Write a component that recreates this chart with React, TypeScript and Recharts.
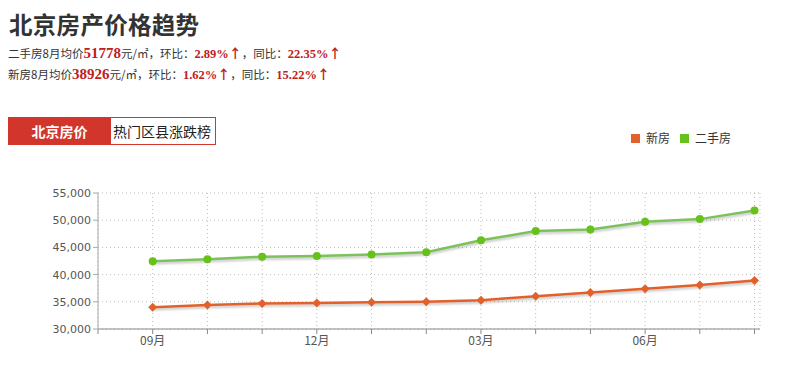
import React from 'react';
import { LineChart, Line, XAxis, YAxis, CartesianGrid } from 'recharts';

const months = ['09月', '10月', '11月', '12月', '01月', '02月', '03月', '04月', '05月', '06月', '07月', '08月'];
const newHouse = [34000, 34400, 34700, 34800, 34900, 35000, 35300, 36000, 36700, 37400, 38100, 38926];
const secondHand = [42450, 42800, 43300, 43400, 43700, 44100, 46300, 48000, 48300, 49700, 50200, 51778];
const yTicks = [30000, 35000, 40000, 45000, 50000, 55000];
const xTicks = [-1, 0, 1, 2, 3, 4, 5, 6, 7, 8, 9, 10, 11];
const labeledIdx = [0, 3, 6, 9];

const data = months.map((m, i) => ({ idx: i, month: m, newHouse: newHouse[i], secondHand: secondHand[i] }));

const ORANGE = '#e2612b';
const GREEN = '#66c11a';

const Diamond = (props: any) => {
  const { cx, cy } = props;
  if (cx == null || cy == null) return null;
  const r = 4.5;
  return <path d={`M${cx},${cy - r}L${cx + r},${cy}L${cx},${cy + r}L${cx - r},${cy}Z`} fill={ORANGE} />;
};
const Circle = (props: any) => {
  const { cx, cy } = props;
  if (cx == null || cy == null) return null;
  return <circle cx={cx} cy={cy} r={4} fill={GREEN} />;
};

const red = '#c0201c';
const serif = '"Liberation Serif", "Noto Sans CJK SC", serif';
const cjk = '"Noto Sans CJK SC", sans-serif';
const arrow = { fontFamily: cjk, fontWeight: 700, color: red, fontSize: 13 } as const;

export default function App() {
  return (
    <div style={{ position: 'absolute', left: 0, top: 0, width: 800, height: 387, background: '#fff', overflow: 'hidden' }}>
      <style>{`.shadowed .recharts-line-curve { filter: drop-shadow(0px 2px 1px rgba(0,0,0,0.22)); }`}</style>
      <div style={{ position: 'absolute', left: 9, top: 8, fontFamily: cjk, fontWeight: 700, fontSize: 23.5, color: '#333', lineHeight: '32px', letterSpacing: 0.3 }}>
        北京房产价格趋势
      </div>
      <div style={{ position: 'absolute', left: 8, top: 43, fontFamily: cjk, fontSize: 11.5, color: '#333', lineHeight: '20px', whiteSpace: 'nowrap' }}>
        二手房8月均价<span style={{ fontFamily: serif, fontWeight: 700, color: red, fontSize: 15 }}>51778</span>元/㎡，环比：<span style={{ fontFamily: serif, fontWeight: 700, color: red, fontSize: 12.5 }}>2.89%</span><span style={arrow}>↑</span>，同比：<span style={{ fontFamily: serif, fontWeight: 700, color: red, fontSize: 12.5 }}>22.35%</span><span style={arrow}>↑</span>
      </div>
      <div style={{ position: 'absolute', left: 8, top: 64, fontFamily: cjk, fontSize: 11.5, color: '#333', lineHeight: '20px', whiteSpace: 'nowrap' }}>
        新房8月均价<span style={{ fontFamily: serif, fontWeight: 700, color: red, fontSize: 15 }}>38926</span>元/㎡，环比：<span style={{ fontFamily: serif, fontWeight: 700, color: red, fontSize: 12.5 }}>1.62%</span><span style={arrow}>↑</span>，同比：<span style={{ fontFamily: serif, fontWeight: 700, color: red, fontSize: 12.5 }}>15.22%</span><span style={arrow}>↑</span>
      </div>
      <div style={{ position: 'absolute', left: 8, top: 117, width: 103, height: 28, background: '#d2352c', color: '#fff', fontFamily: cjk, fontWeight: 700, fontSize: 14, lineHeight: '28px', textAlign: 'center' }}>
        北京房价
      </div>
      <div style={{ position: 'absolute', left: 111, top: 117, width: 102, height: 26, border: '1px solid #d2352c', borderLeft: 'none', color: '#222', fontFamily: cjk, fontSize: 14, lineHeight: '26px', paddingLeft: 2 }}>
        热门区县涨跌榜
      </div>
      <div style={{ position: 'absolute', left: 631, top: 129, display: 'flex', alignItems: 'center', fontFamily: cjk, fontSize: 12, color: '#333', lineHeight: '18px' }}>
        <span style={{ width: 9, height: 9, background: ORANGE, display: 'inline-block', marginRight: 6 }} />
        <span style={{ marginRight: 10 }}>新房</span>
        <span style={{ width: 9, height: 9, background: GREEN, display: 'inline-block', marginRight: 6 }} />
        <span>二手房</span>
      </div>
      <div className="shadowed" style={{ position: 'absolute', left: 0, top: 0 }}>
        <LineChart width={800} height={387} data={data} margin={{ top: 193, right: 40, bottom: 28, left: 38 }}>
          <CartesianGrid stroke="#bbb" strokeDasharray="1 3" />
          <XAxis
            dataKey="idx"
            type="number"
            domain={[-1, 11.1]}
            ticks={xTicks}
            interval={0}
            height={30}
            tickFormatter={(v: number) => (labeledIdx.includes(v) ? months[v] : '')}
            tick={{ fill: '#555', fontSize: 12, fontFamily: cjk }}
            stroke="#888"
            tickSize={5}
            allowDataOverflow
          />
          <YAxis
            domain={[30000, 55000]}
            ticks={yTicks}
            width={60}
            tickFormatter={(v: number) => v.toLocaleString('en-US')}
            tick={{ fill: '#555', fontSize: 11, fontFamily: '"DejaVu Sans", sans-serif' }}
            stroke="#aaa"
            tickSize={5}
          />
          <Line dataKey="newHouse" name="新房" stroke={ORANGE} strokeWidth={2.5} dot={<Diamond />} activeDot={false} isAnimationActive={false} />
          <Line dataKey="secondHand" name="二手房" stroke="#7cc25a" strokeWidth={2.5} dot={<Circle />} activeDot={false} isAnimationActive={false} />
        </LineChart>
      </div>
    </div>
  );
}
